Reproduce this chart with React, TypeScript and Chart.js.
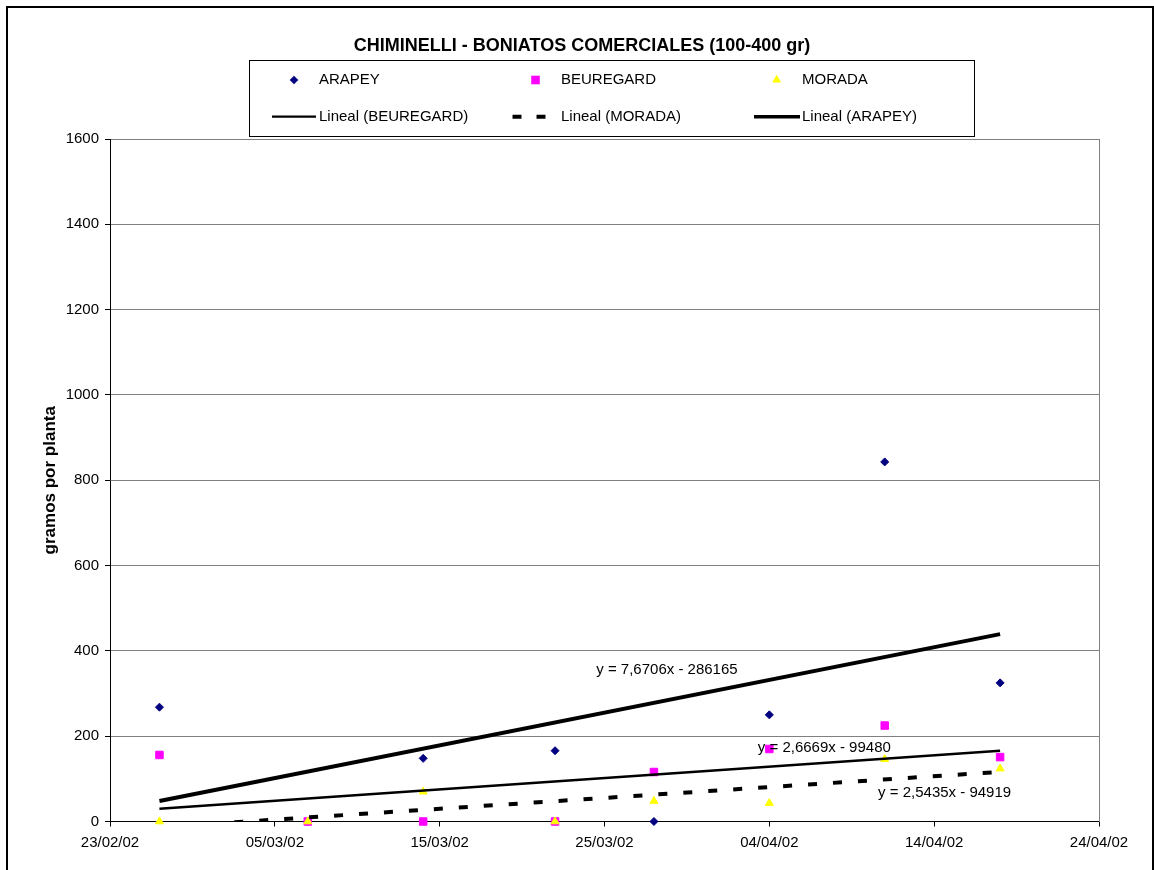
import React, { useEffect, useRef } from 'react';
import { Chart, registerables } from 'chart.js';

Chart.register(...registerables);
Chart.defaults.font.family = '"Liberation Sans", Arial, Helvetica, sans-serif';

// Sampling dates (dd/mm/yy) and grams per plant for each variety
const sampleDates = ['26/02/02', '07/03/02', '14/03/02', '22/03/02', '28/03/02', '04/04/02', '11/04/02', '18/04/02'];
const arapey = [268, 0, 148, 166, 0, 250, 843, 325];
const beuregard = [156, 0, 0, 0, 116, 170, 225, 151];
const morada = [0, 0, 70, 0, 48, 43, 146, 124];

const seriesNames = ['ARAPEY', 'BEUREGARD', 'MORADA'];

// Axis tick labels
const xTickLabels = ['23/02/02', '05/03/02', '15/03/02', '25/03/02', '04/04/02', '14/04/02', '24/04/02'];
const yTickMin = 0;
const yTickMax = 1600;
const yTickStep = 200;

// Linear trendlines (x = spreadsheet date serial), same order as seriesNames
const trendSlopes = [7.6706, 2.6669, 2.5435];
const trendIntercepts = [-286165, -99480, -94919];

const TITLE = 'CHIMINELLI - BONIATOS COMERCIALES (100-400 gr)';
const Y_TITLE = 'gramos por planta';

// dd/mm/yy -> spreadsheet day serial
function toSerial(d: string): number {
  const [dd, mm, yy] = d.split('/').map(Number);
  return Date.UTC(2000 + yy, mm - 1, dd) / 86400000 + 25569;
}

const xs = sampleDates.map(toSerial);
const xMin = toSerial(xTickLabels[0]);
const xMax = toSerial(xTickLabels[xTickLabels.length - 1]);

const points = (vals: number[]) => vals.map((v, i) => ({ x: xs[i], y: v }));

function trendPoints(k: number) {
  const a = xs[0];
  const b = xs[xs.length - 1];
  return [
    { x: a, y: trendSlopes[k] * a + trendIntercepts[k] },
    { x: b, y: trendSlopes[k] * b + trendIntercepts[k] },
  ];
}

function equationText(k: number): string {
  const s = trendSlopes[k].toFixed(4).replace('.', ',');
  const c = trendIntercepts[k];
  return `y = ${s}x ${c < 0 ? '-' : '+'} ${Math.abs(c)}`;
}

const markerColors = ['#000080', '#FF00FF', '#FFFF00'];
const markerStyles = ['rectRot', 'rect', 'triangle'];

function drawMarker(ctx: CanvasRenderingContext2D, style: string, x: number, y: number, color: string) {
  ctx.fillStyle = color;
  ctx.beginPath();
  if (style === 'rectRot') {
    const r = 4.3;
    ctx.moveTo(x, y - r);
    ctx.lineTo(x + r, y);
    ctx.lineTo(x, y + r);
    ctx.lineTo(x - r, y);
  } else if (style === 'rect') {
    const h = 4.3;
    ctx.rect(x - h, y - h, 2 * h, 2 * h);
  } else {
    const r = 5.2;
    ctx.moveTo(x, y - r);
    ctx.lineTo(x + r * 0.866, y + r / 2);
    ctx.lineTo(x - r * 0.866, y + r / 2);
  }
  ctx.closePath();
  ctx.fill();
}

const trendWidths = [4, 2.5, 4];
const trendDashes: number[][] = [[], [], [9, 16]];

// Title, legend box, trendline equations and frame
const decorPlugin = {
  id: 'sheetDecor',
  afterDatasetsDraw(chart: any) {
    const { ctx, scales } = chart;
    const anchors = [
      { x: 37339.5, y: 355 },
      { x: 37349.3, y: 173 },
      { x: 37356.6, y: 66.5 },
    ];
    ctx.save();
    ctx.font = '15px "Liberation Sans", Arial, sans-serif';
    ctx.fillStyle = '#000';
    ctx.textAlign = 'left';
    ctx.textBaseline = 'middle';
    anchors.forEach((a, k) => {
      ctx.fillText(equationText(k), scales.x.getPixelForValue(a.x), scales.y.getPixelForValue(a.y));
    });
    // right edge of the plot area
    const area = chart.chartArea;
    ctx.strokeStyle = '#808080';
    ctx.lineWidth = 1;
    ctx.beginPath();
    ctx.moveTo(Math.round(area.right) + 0.5, Math.round(area.top));
    ctx.lineTo(Math.round(area.right) + 0.5, Math.round(area.bottom));
    ctx.stroke();
    ctx.restore();
  },
  afterDraw(chart: any) {
    const ctx: CanvasRenderingContext2D = chart.ctx;
    ctx.save();
    // title
    ctx.fillStyle = '#000';
    ctx.font = 'bold 18px "Liberation Sans", Arial, sans-serif';
    ctx.textAlign = 'center';
    ctx.textBaseline = 'middle';
    ctx.fillText(TITLE, 582, 46);

    // legend box
    ctx.fillStyle = '#fff';
    ctx.fillRect(249.5, 60.5, 725, 76);
    ctx.strokeStyle = '#000';
    ctx.lineWidth = 1;
    ctx.strokeRect(249.5, 60.5, 725, 76);

    const colText = [319, 561, 802];
    const colMark = [294, 535.5, 776.7];
    const row1 = 80;
    const row2 = 116.7;
    ctx.font = '15px "Liberation Sans", Arial, sans-serif';
    ctx.textAlign = 'left';
    ctx.textBaseline = 'middle';
    for (let k = 0; k < 3; k++) {
      drawMarker(ctx, markerStyles[k], colMark[k], row1, markerColors[k]);
      ctx.fillStyle = '#000';
      ctx.fillText(seriesNames[k], colText[k], row1);
    }
    // trendline entries: BEUREGARD, MORADA, ARAPEY
    const lineOrder = [1, 2, 0];
    const sampleStart = [272, 512.5, 754];
    const sampleEnd = [316, 546, 800];
    const sampleWidth = [2.3, 4, 3.5];
    lineOrder.forEach((k, col) => {
      ctx.strokeStyle = '#000';
      ctx.lineWidth = sampleWidth[col];
      ctx.setLineDash(k === 2 ? [9, 15] : []);
      ctx.lineCap = 'butt';
      ctx.beginPath();
      ctx.moveTo(sampleStart[col], row2);
      ctx.lineTo(sampleEnd[col], row2);
      ctx.stroke();
      ctx.setLineDash([]);
      ctx.fillStyle = '#000';
      ctx.fillText(`Lineal (${seriesNames[k]})`, colText[col], row2);
    });

    // outer frame
    ctx.strokeStyle = '#000';
    ctx.lineWidth = 2;
    ctx.strokeRect(7, 7, 1146, 1000);
    ctx.restore();
  },
};

export default function App() {
  const canvasRef = useRef<HTMLCanvasElement | null>(null);

  useEffect(() => {
    if (!canvasRef.current) return;
    const values = [arapey, beuregard, morada];
    const scatterSets = [0, 1, 2].map((k) => ({
      label: seriesNames[k],
      data: points(values[k]),
      pointStyle: markerStyles[k],
      pointRadius: [4, 5.3, 4.6][k],
      pointBackgroundColor: markerColors[k],
      pointBorderColor: markerColors[k],
      pointBorderWidth: 1,
      showLine: false,
      clip: false as any,
      order: 5 - k,
    }));
    const trendSets = [0, 1, 2].map((k) => ({
      label: `Lineal (${seriesNames[k]})`,
      data: trendPoints(k),
      showLine: true,
      pointRadius: 0,
      borderColor: '#000',
      backgroundColor: '#000',
      borderWidth: trendWidths[k],
      borderDash: trendDashes[k],
      borderCapStyle: 'butt' as const,
      clip: 0 as any,
      order: k,
    }));

    const chart = new Chart(canvasRef.current, {
      type: 'scatter',
      data: { datasets: [...scatterSets, ...trendSets] as any },
      options: {
        responsive: false,
        animation: false,
        layout: { padding: { top: 139, right: 55, bottom: 0, left: 0 } },
        plugins: {
          legend: { display: false },
          title: { display: false },
          tooltip: { enabled: false },
        },
        scales: {
          x: {
            type: 'linear',
            position: 'bottom',
            min: xMin,
            max: xMax,
            afterFit: (s: any) => {
              s.height = 48.5;
            },
            ticks: {
              stepSize: 10,
              padding: 7,
              color: '#000',
              font: { size: 15 },
              autoSkip: false,
              maxRotation: 0,
              callback: (_v: any, i: number) => xTickLabels[i],
            },
            grid: { drawOnChartArea: false, drawTicks: true, tickLength: 5, tickColor: '#000' },
            border: { color: '#000', width: 1 },
          },
          y: {
            min: yTickMin,
            max: yTickMax,
            afterFit: (s: any) => {
              s.width = 110;
            },
            ticks: {
              stepSize: yTickStep,
              padding: 6,
              color: '#000',
              font: { size: 15 },
              callback: (v: any) => String(v),
            },
            grid: {
              color: (c: any) => (c.tick && c.tick.value === 0 ? '#000' : '#808080'),
              tickLength: 5,
              tickColor: '#000',
            },
            border: { color: '#000', width: 1 },
            title: {
              display: true,
              text: Y_TITLE,
              color: '#000',
              font: { size: 17, weight: 'bold' },
              padding: { top: 40, bottom: 0 },
            },
          },
        },
      },
      plugins: [decorPlugin],
    } as any);

    return () => chart.destroy();
  }, []);

  return (
    <div
      style={{
        position: 'absolute',
        left: 0,
        top: 0,
        width: 1154,
        height: 870,
        overflow: 'hidden',
        background: '#fff',
      }}
    >
      <canvas ref={canvasRef} width={1154} height={870} style={{ display: 'block' }} />
    </div>
  );
}
